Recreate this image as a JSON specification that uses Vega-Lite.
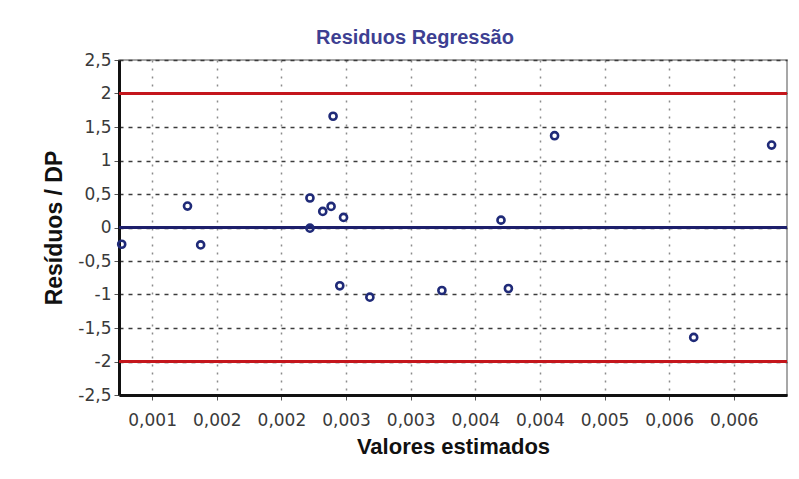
{
  "$schema": "https://vega.github.io/schema/vega-lite/v6.json",
  "width": 668,
  "height": 335,
  "autosize": {"type": "none"},
  "padding": {"left": 119, "top": 60, "right": 12, "bottom": 84},
  "background": "white",
  "title": {
    "text": "Residuos Regressão",
    "font": "Liberation Sans",
    "fontSize": 20,
    "fontWeight": "bold",
    "color": "#3d3f92",
    "anchor": "middle",
    "dx": -38,
    "offset": 3
  },
  "config": {
    "view": {"stroke": "#8a8a8a", "strokeWidth": 1.5},
    "axis": {
      "domainColor": "#111111",
      "domainWidth": 3,
      "labelFont": "DejaVu Sans",
      "labelFontSize": 17,
      "labelColor": "#3a3a3a",
      "titleFont": "Liberation Sans",
      "titleFontWeight": "bold",
      "titleColor": "#111111",
      "tickColor": "#555555",
      "tickSize": 5
    }
  },
  "datasets": {
    "residuos": [
      {"estimado": 0.000841, "residuo": -0.25},
      {"estimado": 0.001401, "residuo": 0.32},
      {"estimado": 0.001513, "residuo": -0.26},
      {"estimado": 0.002443, "residuo": 0.44},
      {"estimado": 0.002443, "residuo": -0.01},
      {"estimado": 0.002552, "residuo": 0.24},
      {"estimado": 0.002623, "residuo": 0.315},
      {"estimado": 0.00264, "residuo": 1.66},
      {"estimado": 0.002729, "residuo": 0.15},
      {"estimado": 0.002697, "residuo": -0.87},
      {"estimado": 0.002953, "residuo": -1.04},
      {"estimado": 0.003566, "residuo": -0.94},
      {"estimado": 0.004069, "residuo": 0.11},
      {"estimado": 0.004132, "residuo": -0.91},
      {"estimado": 0.004525, "residuo": 1.37},
      {"estimado": 0.005709, "residuo": -1.64},
      {"estimado": 0.006372, "residuo": 1.23}
    ],
    "referencias": [
      {"nivel": 2, "tipo": "limite"},
      {"nivel": -2, "tipo": "limite"},
      {"nivel": 0, "tipo": "zero"}
    ]
  },
  "layer": [
    {
      "data": {"name": "residuos"},
      "mark": {"type": "point", "opacity": 0},
      "encoding": {
        "x": {
          "field": "estimado",
          "type": "quantitative",
          "scale": {"domain": [0.000818, 0.006503], "nice": false, "zero": false},
          "axis": {
            "title": "Valores estimados",
            "titleFontSize": 22,
            "titlePadding": 8,
            "values": [0.0011, 0.00165, 0.0022, 0.00275, 0.0033, 0.00385, 0.0044, 0.00495, 0.0055, 0.00605],
            "labelExpr": "['0,001','0,002','0,002','0,003','0,003','0,004','0,004','0,005','0,006','0,006'][round((datum.value - 0.0011) / 0.00055)]",
            "labelOverlap": false,
            "labelPadding": 12,
            "grid": true,
            "gridColor": "#8c8c8c",
            "gridDash": [2, 6],
            "gridWidth": 1.5
          }
        },
        "y": {
          "field": "residuo",
          "type": "quantitative",
          "scale": {"domain": [-2.5, 2.5], "nice": false, "zero": false},
          "axis": {
            "title": "Resíduos / DP",
            "titleFontSize": 23,
            "titlePadding": 11,
            "tickCount": 10,
            "labelExpr": "replace('' + datum.value, '.', ',')",
            "labelOverlap": false,
            "labelPadding": 3,
            "grid": true,
            "gridColor": "#3c3c3c",
            "gridDash": [4, 5],
            "gridWidth": 1.5
          }
        }
      }
    },
    {
      "data": {"name": "referencias"},
      "mark": {"type": "rule", "strokeWidth": 3},
      "encoding": {
        "y": {"field": "nivel", "type": "quantitative"},
        "color": {
          "field": "tipo",
          "type": "nominal",
          "scale": {"domain": ["limite", "zero"], "range": ["#c4161c", "#1d1f6b"]},
          "legend": null
        }
      }
    },
    {
      "data": {"name": "residuos"},
      "mark": {"type": "point", "filled": false, "stroke": "#1f2a78", "strokeWidth": 2.6, "size": 50, "opacity": 1},
      "encoding": {
        "x": {"field": "estimado", "type": "quantitative"},
        "y": {"field": "residuo", "type": "quantitative"}
      }
    }
  ]
}
